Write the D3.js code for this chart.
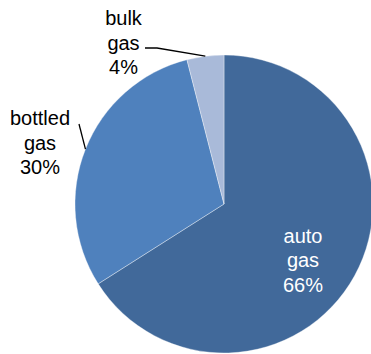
<!DOCTYPE html>
<html>
<head>
<meta charset="utf-8">
<script src="https://cdn.jsdelivr.net/npm/d3@7"></script>
<style>
  html, body { margin: 0; padding: 0; background: #fff; }
  svg { display: block; }
  text { font-family: "Liberation Sans", Arial, sans-serif; }
</style>
</head>
<body>
<svg id="chart" width="371" height="354"></svg>
<script>
// LPG sales by product type
const categories = ["auto gas", "bottled gas", "bulk gas"];
const shares = [66, 30, 4];
const sliceColors = ["#41699A", "#4F81BD", "#A9BAD9"];

const width = 371, height = 354;
const cx = 224, cy = 204, radius = 149;
const fontSize = 20, lineHeight = 24.5;

const svg = d3.select("#chart");
const g = svg.append("g").attr("transform", `translate(${cx},${cy})`);

const pie = d3.pie().sort(null).value(d => d.value);
const arc = d3.arc().innerRadius(0).outerRadius(radius);
const data = categories.map((c, i) => ({ name: c, value: shares[i], color: sliceColors[i] }));
const arcs = pie(data);

g.selectAll("path.slice")
  .data(arcs)
  .join("path")
  .attr("class", "slice")
  .attr("d", arc)
  .attr("fill", d => d.data.color)
  .attr("stroke", "#ffffff")
  .attr("stroke-width", 0.6)
  .attr("stroke-opacity", 0.6);

// label placement: text centre / first baseline (relative to pie centre),
// leader line elbow, and whether the label sits inside the slice
const labelLayout = {
  "auto gas":    { x: 79,   y: 38.5,  inside: true },
  "bottled gas": { x: -184, y: -79,   inside: false, elbow: null },
  "bulk gas":    { x: -100.5, y: -179, inside: false, elbow: [-67, -156] }
};

const pointOnCircle = a => [Math.sin(a) * radius, -Math.cos(a) * radius];

arcs.forEach(d => {
  const lay = labelLayout[d.data.name];
  const lines = d.data.name.split(" ").concat([d.data.value + "%"]);
  const t = g.append("text")
    .attr("text-anchor", "middle")
    .attr("font-size", fontSize)
    .attr("fill", lay.inside ? "#ffffff" : "#000000");
  lines.forEach((s, i) => {
    t.append("tspan").attr("x", lay.x).attr("y", lay.y + i * lineHeight).text(s);
  });

  if (!lay.inside) {
    const mid = (d.startAngle + d.endAngle) / 2;
    const end = pointOnCircle(mid);
    let pts;
    if (d.data.name === "bulk gas") {
      pts = [[-79, -156], lay.elbow, end];
    } else {
      pts = [[-145, -80], end];
    }
    g.append("path")
      .attr("d", d3.line()(pts))
      .attr("fill", "none")
      .attr("stroke", "#000")
      .attr("stroke-width", 1.3);
  }
});
</script>
</body>
</html>
